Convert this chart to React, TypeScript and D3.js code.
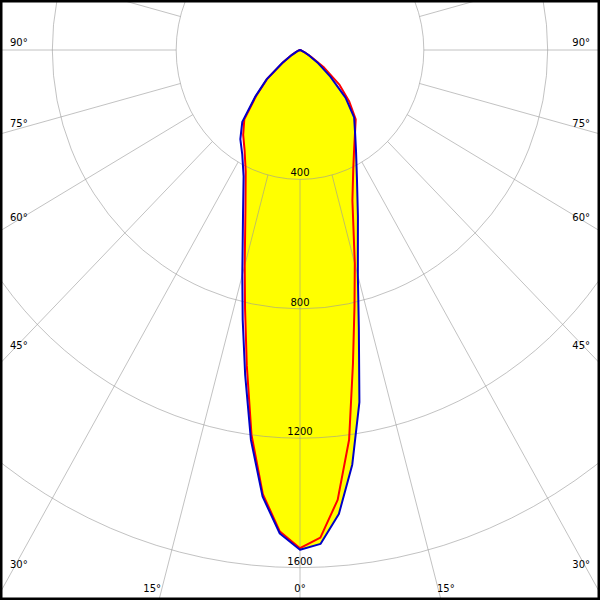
import React from "react";
import * as d3 from "d3";

// Gamma angles (degrees from nadir)
const gammas = [0, 2.5, 5, 7.5, 10, 12.5, 15, 20, 25, 30, 35, 40, 45, 50, 55, 60, 65, 70, 75, 80, 85, 90];
// Luminous intensity (cd) per plane half
const blueRight = [1545, 1528, 1440, 1293, 1105, 878, 722, 547, 435, 362, 310, 272, 208, 128, 72, 35, 15, 5, 0, 0, 0, 0];
const blueLeft = [1545, 1496, 1386, 1215, 1020, 855, 720, 538, 431, 373, 336, 290, 205, 140, 70, 30, 12, 4, 0, 0, 0, 0];
const redRight = [1540, 1509, 1396, 1215, 985, 813, 684, 495, 407, 350, 310, 280, 225, 165, 95, 40, 15, 5, 0, 0, 0, 0];
const redLeft = [1540, 1490, 1378, 1200, 990, 820, 690, 515, 415, 358, 320, 280, 200, 138, 68, 30, 12, 4, 0, 0, 0, 0];

const ringValues = [400, 800, 1200, 1600];
const rayAngles = d3.range(0, 360, 15);
const leftLabelAngles = [90, 75, 60, 45, 30];
const bottomLabelAngles = [15, 0];

const W = 600;
const H = 600;
const CX = 300;
const CY = 50;
const ASPECT = 0.957;

const r = d3.scaleLinear().domain([0, 1600]).range([0, 517.6]);

function pt(gDeg: number, I: number, side: number): [number, number] {
  const g = (gDeg * Math.PI) / 180;
  return [CX + side * r(I) * Math.sin(g) * ASPECT, CY + r(I) * Math.cos(g)];
}

function halfPoints(vals: number[], side: number) {
  return gammas.map((g, i) => pt(g, vals[i], side));
}

function curve(left: number[], right: number[]) {
  const l = halfPoints(left, -1).reverse();
  const rr = halfPoints(right, 1);
  return [...l, ...rr];
}

const line = d3.line<[number, number]>();

function rayYAtX(gDeg: number, x: number, side: number) {
  const g = (gDeg * Math.PI) / 180;
  const s = Math.sin(g) * ASPECT;
  if (Math.abs(s) < 1e-9) return CY;
  const t = (side * (x - CX)) / s;
  return CY + t * Math.cos(g);
}
function rayXAtY(gDeg: number, y: number, side: number) {
  const g = (gDeg * Math.PI) / 180;
  const t = (y - CY) / Math.cos(g);
  return CX + side * t * Math.sin(g) * ASPECT;
}

export default function App() {
  const fillPts = curve(redLeft, blueRight);
  const redPts = curve(redLeft, redRight);
  const bluePts = curve(blueLeft, blueRight);
  const rIn = r(400);
  const rOut = 2000;
  const font = { fontFamily: "DejaVu Sans, Verdana, sans-serif", fontSize: 10 };
  const labelY = (a: number, x: number, side: number) => {
    const y = rayYAtX(a, x, side) - 4;
    return a === 30 ? y - 3 : y;
  };

  return (
    <svg
      width={W}
      height={H}
      style={{ position: "absolute", left: 0, top: 0, background: "#fff" }}
    >
      <defs>
        <clipPath id="clip">
          <rect x={0} y={0} width={W} height={H} />
        </clipPath>
      </defs>
      <rect x={0} y={0} width={W} height={H} fill="#fff" />
      <g clipPath="url(#clip)">
        <path d={line(fillPts) + "Z"} fill="#ffff00" stroke="none" />
        {ringValues.map((v) => (
          <ellipse
            key={v}
            cx={CX}
            cy={CY}
            rx={r(v) * ASPECT}
            ry={r(v)}
            fill="none"
            stroke="#999"
            strokeOpacity={0.6}
            strokeWidth={1}
          />
        ))}
        {rayAngles.map((a) => {
          const g = (a * Math.PI) / 180;
          const x1 = CX - rIn * Math.sin(g) * ASPECT;
          const y1 = CY + rIn * Math.cos(g);
          const x2 = CX - rOut * Math.sin(g) * ASPECT;
          const y2 = CY + rOut * Math.cos(g);
          return (
            <line
              key={a}
              x1={x1}
              y1={y1}
              x2={x2}
              y2={y2}
              stroke="#999"
              strokeOpacity={0.6}
              strokeWidth={1}
            />
          );
        })}
        <path d={line(redPts) + "Z"} fill="none" stroke="#ff0000" strokeWidth={2} strokeLinejoin="round" />
        <path d={line(bluePts) + "Z"} fill="none" stroke="#0000c8" strokeWidth={2} strokeLinejoin="round" />
        {ringValues.map((v) => (
          <text key={v} x={CX} y={CY + r(v) - 3} textAnchor="middle" style={font} fill="#000">
            {v}
          </text>
        ))}
        {leftLabelAngles.map((a) => (
          <React.Fragment key={a}>
            <text x={10} y={labelY(a, 10, -1)} textAnchor="start" style={font} fill="#000">
              {a + "°"}
            </text>
            <text x={590} y={labelY(a, 590, 1)} textAnchor="end" style={font} fill="#000">
              {a + "°"}
            </text>
          </React.Fragment>
        ))}
        {bottomLabelAngles.map((a) =>
          a === 0 ? (
            <text key={a} x={CX} y={592} textAnchor="middle" style={font} fill="#000">
              {a + "°"}
            </text>
          ) : (
            <React.Fragment key={a}>
              <text x={rayXAtY(a, 588, -1) - 1} y={592} textAnchor="end" style={font} fill="#000">
                {a + "°"}
              </text>
              <text x={rayXAtY(a, 588, 1) - 1} y={592} textAnchor="start" style={font} fill="#000">
                {a + "°"}
              </text>
            </React.Fragment>
          )
        )}
      </g>
      <rect x={0} y={0} width={W} height={H} fill="none" stroke="#000" strokeWidth={5} />
    </svg>
  );
}
